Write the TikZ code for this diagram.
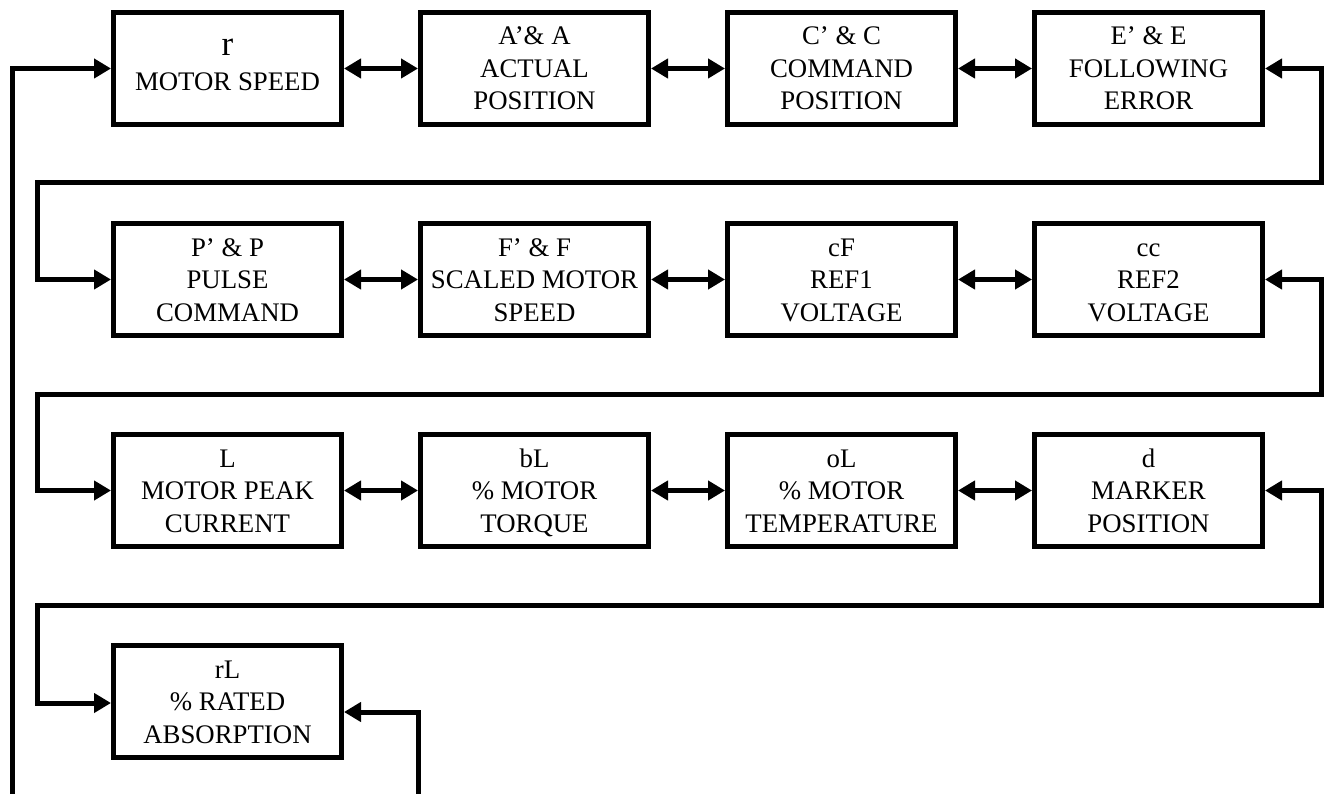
\documentclass[tikz,border=0pt]{standalone}
\usepackage{fontspec}
\setmainfont{Liberation Serif}
\usetikzlibrary{arrows.meta}
\newcommand\tp{\rule{0pt}{24pt}}
\newcommand\bt{\rule[-6pt]{0pt}{6pt}}
\begin{document}
\begin{tikzpicture}[x=1pt,y=-1pt,
  box/.style={draw,line width=5pt,minimum width=228pt,minimum height=112pt,inner sep=0pt,align=center,font=\fontsize{26.8}{32.5}\selectfont},
  link/.style={line width=5pt,line join=miter,{Triangle[length=17pt,width=19pt]}-{Triangle[length=17pt,width=19pt]}},
  feed/.style={line width=5pt,line join=miter,-{Triangle[length=17pt,width=19pt]}}]
\useasboundingbox (0,0) rectangle (1325,794);
% row 1
\node[box] (r) at (227.5,68.5) {{\fontsize{35}{32.5}\selectfont r}\\[2.5pt]MOTOR SPEED\rule[-8pt]{0pt}{8pt}};
\node[box] (A) at (534.5,68.5) {\tp A’\& A\\ACTUAL\\POSITION\bt};
\node[box] (C) at (841.5,68.5) {\tp C’ \& C\\COMMAND\\POSITION\bt};
\node[box] (E) at (1148.5,68.5) {\tp E’ \& E\\FOLLOWING\\ERROR\bt};
% row 2
\node[box] (P) at (227.5,279.5) {\tp P’ \& P\\PULSE\\COMMAND\bt};
\node[box] (F) at (534.5,279.5) {\tp F’ \& F\\SCALED MOTOR\\SPEED\bt};
\node[box] (cF) at (841.5,279.5) {\tp cF\\REF1\\VOLTAGE\bt};
\node[box] (cc) at (1148.5,279.5) {\tp cc\\REF2\\VOLTAGE\bt};
% row 3
\node[box] (L) at (227.5,490.5) {\tp L\\MOTOR PEAK\\CURRENT\bt};
\node[box] (bL) at (534.5,490.5) {\tp bL\\\% MOTOR\\TORQUE\bt};
\node[box] (oL) at (841.5,490.5) {\tp oL\\\% MOTOR\\TEMPERATURE\bt};
\node[box] (d) at (1148.5,490.5) {\tp d\\MARKER\\POSITION\bt};
% row 4
\node[box] (rL) at (227.5,701.5) {\tp rL\\\% RATED\\ABSORPTION\bt};
% links within rows
\draw[link] (r) -- (A);
\draw[link] (A) -- (C);
\draw[link] (C) -- (E);
\draw[link] (P) -- (F);
\draw[link] (F) -- (cF);
\draw[link] (cF) -- (cc);
\draw[link] (L) -- (bL);
\draw[link] (bL) -- (oL);
\draw[link] (oL) -- (d);
% links between rows
\draw[link] (E.east) -| (1321.5,183) -- (37,183) |- (P.west);
\draw[link] (cc.east) -| (1321.5,394) -- (37,394) |- (L.west);
\draw[link] (d.east) -| (1321.5,605) -- (37,605) |- ([yshift=-1.5pt]rL.west);
% outer feeds
\coordinate (inL) at (12,796);
\coordinate (inR) at (418,796);
\draw[feed] (inL) |- (r.west);
\draw[feed] (inR) |- ([yshift=-10.5pt]rL.east);
\end{tikzpicture}
\end{document}
